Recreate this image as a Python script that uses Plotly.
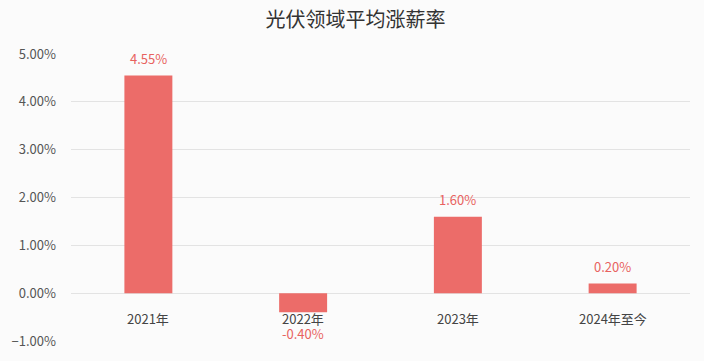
import plotly.graph_objects as go

categories = ["2021年", "2022年", "2023年", "2024年至今"]
values = [4.55, -0.40, 1.60, 0.20]
labels = ["4.55%", "-0.40%", "1.60%", "0.20%"]
title_text = "光伏领域平均涨薪率"

FONT = "Noto Sans CJK SC"

fig = go.Figure()
fig.add_trace(go.Bar(
    x=categories, y=values, width=0.31,
    marker=dict(color="#EC6C69", line=dict(width=0)),
    hoverinfo="skip",
))

for c, v, t in zip(categories, values, labels):
    fig.add_annotation(x=c, y=v, xref="x", yref="y", text=t, showarrow=False,
                       yanchor="middle", yshift=17 if v >= 0 else -21,
                       font=dict(family=FONT, size=13, color="#E8625F"))
    fig.add_annotation(x=c, y=0, xref="x", yref="y", text=c, showarrow=False,
                       yanchor="middle", yshift=-25,
                       font=dict(family=FONT, size=13, color="#444444"))

fig.update_layout(
    width=704, height=361,
    margin=dict(l=71, r=14, t=54, b=20),
    paper_bgcolor="#FBFBFB", plot_bgcolor="rgba(0,0,0,0)",
    showlegend=False,
    title=dict(text=title_text, x=0.505, xanchor="center", y=1 - 20 / 361, yanchor="middle",
               font=dict(family=FONT, size=20, color="#333333")),
    font=dict(family=FONT, size=13, color="#555555"),
)
fig.update_xaxes(showticklabels=False, showgrid=False, zeroline=False, showline=False,
                 range=[-0.5, 3.5])
fig.update_yaxes(range=[-1, 5], dtick=1, tick0=0, tickformat=".2f", ticksuffix="%",
                 showgrid=True, gridcolor="#E3E3E3", gridwidth=1,
                 zeroline=True, zerolinecolor="#E3E3E3", zerolinewidth=1,
                 showline=False, ticks="", ticklabelstandoff=14,
                 tickfont=dict(family=FONT, size=13, color="#555555"))

fig.write_html(
    "out.html",
    config={"displayModeBar": False, "staticPlot": True},
    post_script="document.body.style.margin='0';document.body.style.overflow='hidden';",
)
